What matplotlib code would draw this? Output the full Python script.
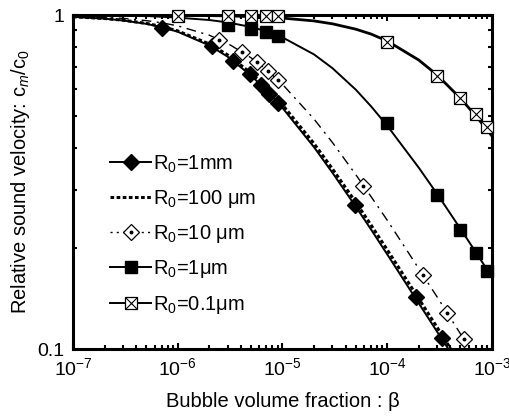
import matplotlib
matplotlib.use("Agg")
import matplotlib.pyplot as plt
from matplotlib.ticker import LogLocator, NullFormatter, FixedLocator, FixedFormatter

plt.rcParams['font.family'] = ['Liberation Sans', 'DejaVu Sans']
plt.rcParams['mathtext.fontset'] = 'custom'
plt.rcParams['mathtext.rm'] = 'Liberation Sans'
plt.rcParams['mathtext.it'] = 'Liberation Sans:italic'
plt.rcParams['mathtext.bf'] = 'Liberation Sans:bold'

# ---- data ----
beta_curve = [1e-7, 2e-7, 3e-7, 5e-7, 7e-7, 1e-6, 2e-6, 3e-6, 5e-6, 7e-6,
              1e-5, 2e-5, 3e-5, 5e-5, 7e-5, 1e-4, 2e-4, 3e-4, 5e-4, 7e-4, 1e-3]

r1mm_curve   = [0.987, 0.975, 0.963, 0.941, 0.920, 0.891, 0.811, 0.750, 0.659, 0.596,
                0.527, 0.402, 0.337, 0.267, 0.228, 0.192, 0.137, 0.1125, 0.088, 0.074, 0.062]
r100um_curve = [0.988, 0.976, 0.965, 0.944, 0.924, 0.896, 0.819, 0.759, 0.670, 0.607,
                0.538, 0.412, 0.346, 0.275, 0.235, 0.198, 0.1414, 0.1159, 0.090, 0.076, 0.064]
r10um_curve  = [0.992, 0.984, 0.977, 0.962, 0.948, 0.928, 0.870, 0.822, 0.745, 0.687,
                0.620, 0.488, 0.415, 0.333, 0.286, 0.243, 0.174, 0.143, 0.111, 0.094, 0.079]
r1um_curve   = [0.999, 0.998, 0.996, 0.993, 0.988, 0.982, 0.966, 0.950, 0.921, 0.894,
                0.857, 0.762, 0.693, 0.598, 0.533, 0.466, 0.349, 0.291, 0.229, 0.195, 0.164]
r01um_curve  = [1.000, 1.000, 0.999, 0.999, 0.999, 0.998, 0.996, 0.994, 0.989, 0.985,
                0.979, 0.960, 0.941, 0.907, 0.877, 0.836, 0.733, 0.661, 0.563, 0.499, 0.434]

r1mm_x = [7e-7, 2.1e-6, 3.4e-6, 4.9e-6, 6.2e-6, 7.4e-6, 9e-6, 4.9e-5, 1.88e-4, 3.3e-4]
r1mm_y = [0.916, 0.807, 0.728, 0.666, 0.617, 0.580, 0.545, 0.270, 0.143, 0.108]

r10um_x = [2.5e-6, 4.1e-6, 5.7e-6, 7.3e-6, 9e-6, 5.9e-5, 2.2e-4, 3.7e-4, 5.4e-4]
r10um_y = [0.841, 0.775, 0.723, 0.680, 0.639, 0.308, 0.167, 0.128, 0.107]

r1um_x = [3e-6, 5e-6, 7e-6, 9e-6, 1e-4, 3e-4, 5e-4, 7e-4, 9e-4]
r1um_y = [0.933, 0.908, 0.889, 0.865, 0.475, 0.289, 0.227, 0.194, 0.171]

r01um_x = [1e-6, 3e-6, 5e-6, 7e-6, 9e-6, 1e-4, 3e-4, 5e-4, 7e-4, 9e-4]
r01um_y = [0.995, 0.995, 0.994, 0.993, 0.992, 0.830, 0.656, 0.564, 0.505, 0.462]

labels = ['R$_0$=1mm', 'R$_0$=100 μm', 'R$_0$=10 μm', 'R$_0$=1μm', 'R$_0$=0.1μm']
xtick_vals = [1e-7, 1e-6, 1e-5, 1e-4, 1e-3]
xtick_labels = ['10$^{-7}$', '10$^{-6}$', '10$^{-5}$', '10$^{-4}$', '10$^{-3}$']
ytick_vals = [0.1, 1]
ytick_labels = ['0.1', '1']

# ---- figure ----
fig = plt.figure(figsize=(5.10, 4.18), dpi=100)
ax = fig.add_axes([73/510, 1-349/418, 419/510, 334/418])
ax.set_xscale('log')
ax.set_yscale('log')
ax.set_xlim(1e-7, 1e-3)
ax.set_ylim(0.1, 1)

ms = 8.5
# 1 mm
ax.plot(beta_curve, r1mm_curve, '-', color='black', lw=1.4)
ax.plot(r1mm_x, r1mm_y, 'D', color='black', ms=ms, ls='none', clip_on=False)
h1 = ax.plot([], [], '-', color='black', lw=1.4, marker='D', ms=ms)[0]
# 100 um
h2, = ax.plot(beta_curve, r100um_curve, color='black', lw=2.2, linestyle=(0, (1.2, 0.8)))
# 10 um
ax.plot(beta_curve, r10um_curve, color='black', lw=1.0, linestyle=(0, (7, 4, 1.5, 4)))
ax.plot(r10um_x, r10um_y, 'D', mfc='white', mec='black', mew=0.9, ms=ms, ls='none', clip_on=False)
ax.plot(r10um_x, r10um_y, 'o', color='black', ms=1.8, ls='none', clip_on=False)
h3a = ax.plot([], [], color='black', lw=1.0, linestyle=(0, (1.5, 3)), marker='D',
              mfc='white', mec='black', mew=0.9, ms=ms)[0]
h3b = ax.plot([], [], 'o', color='black', ms=1.8, ls='none')[0]
# 1 um
ax.plot(beta_curve, r1um_curve, '-', color='black', lw=1.4)
ax.plot(r1um_x, r1um_y, 's', color='black', ms=ms, ls='none', clip_on=False)
h4 = ax.plot([], [], '-', color='black', lw=1.4, marker='s', ms=ms)[0]
# 0.1 um
ax.plot(beta_curve, r01um_curve, '-', color='black', lw=2.0, zorder=3)
ax.plot(r01um_x, r01um_y, 's', mfc='white', mec='black', mew=0.9, ms=ms, ls='none',
        clip_on=False, zorder=4)
ax.plot(r01um_x, r01um_y, 'x', color='black', mew=0.8, ms=ms, ls='none',
        clip_on=False, zorder=5)
h5a = ax.plot([], [], '-', color='black', lw=1.4, marker='s', mfc='white', mec='black',
              mew=0.9, ms=ms)[0]
h5b = ax.plot([], [], 'x', color='black', mew=0.8, ms=ms, ls='none')[0]

leg = ax.legend([h1, h2, (h3a, h3b), h4, (h5a, h5b)], labels,
                loc='upper left', bbox_to_anchor=(0.07, 0.61), frameon=False,
                fontsize=14.5, handlelength=2.0, handletextpad=0.1, labelspacing=0.66,
                numpoints=1, borderaxespad=0)

# ticks
ax.xaxis.set_major_locator(FixedLocator(xtick_vals))
ax.xaxis.set_major_formatter(FixedFormatter(xtick_labels))
ax.xaxis.set_minor_locator(LogLocator(base=10, subs=range(2, 10)))
ax.xaxis.set_minor_formatter(NullFormatter())
ax.yaxis.set_major_locator(FixedLocator(ytick_vals))
ax.yaxis.set_major_formatter(FixedFormatter(ytick_labels))
ax.yaxis.set_minor_locator(LogLocator(base=10, subs=range(2, 10)))
ax.yaxis.set_minor_formatter(NullFormatter())
ax.tick_params(which='both', direction='in', top=True, right=True, width=1.5, labelsize=14,
               color='black')
ax.tick_params(which='major', length=4, pad=6)
ax.tick_params(which='minor', length=3)
for s in ax.spines.values():
    s.set_linewidth(2.2)

ax.set_xlabel('Bubble volume fraction : β', fontsize=14.5, labelpad=9)
ax.set_ylabel('Relative sound velocity: c$_m$/c$_0$', fontsize=14.5, labelpad=4)

fig.savefig('out.png', dpi=100)
